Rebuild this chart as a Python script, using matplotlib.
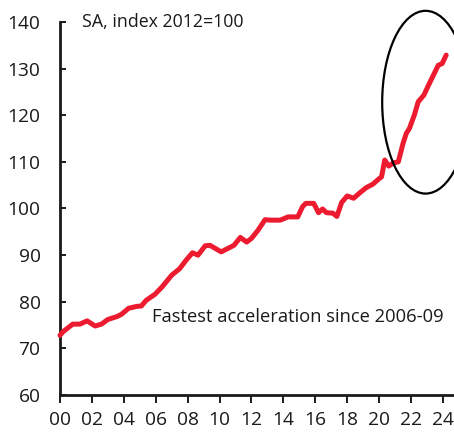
import matplotlib
matplotlib.use("Agg")
import matplotlib.pyplot as plt
from matplotlib.patches import Ellipse

# values (year fraction, index level)
years = [
    2000.0, 2000.2, 2000.8, 2001.25, 2001.7, 2002.2, 2002.6, 2003.0, 2003.55, 2003.85,
    2004.3, 2004.8, 2005.1, 2005.4, 2005.95, 2006.4, 2007.0, 2007.5, 2007.9, 2008.3,
    2008.65, 2009.1, 2009.4, 2009.8, 2010.1, 2010.5, 2010.9, 2011.3, 2011.7, 2012.0,
    2012.4, 2012.85, 2013.2, 2013.8, 2014.3, 2014.9, 2015.2, 2015.4, 2015.9, 2016.2,
    2016.45, 2016.7, 2017.1, 2017.35, 2017.65, 2018.0, 2018.4, 2018.8, 2019.2, 2019.6,
    2020.0, 2020.15, 2020.35, 2020.6, 2020.9, 2021.2, 2021.5, 2021.7, 2021.9, 2022.2,
    2022.45, 2022.8, 2023.1, 2023.4, 2023.7, 2023.95, 2024.2,
]
index_level = [
    72.8, 73.6, 75.2, 75.2, 75.9, 74.8, 75.2, 76.2, 76.8, 77.3,
    78.6, 79.0, 79.1, 80.3, 81.6, 83.2, 85.7, 87.1, 88.9, 90.5,
    90.0, 92.0, 92.1, 91.3, 90.7, 91.4, 92.1, 93.8, 92.8, 93.6,
    95.3, 97.6, 97.5, 97.5, 98.2, 98.2, 100.4, 101.1, 101.1, 99.1,
    99.9, 99.1, 99.0, 98.3, 101.3, 102.7, 102.2, 103.4, 104.5, 105.2,
    106.4, 106.8, 110.4, 109.1, 109.8, 110.0, 114.0, 116.1, 117.2, 120.0,
    122.9, 124.3, 126.5, 128.6, 130.7, 131.1, 132.9,
]
xtick_years = list(range(2000, 2025, 2))
xtick_labels = [f"{y % 100:02d}" for y in xtick_years]
yticks = list(range(60, 141, 10))

plt.rcParams["font.family"] = ["Open Sans", "DejaVu Sans"]

fig = plt.figure(figsize=(4.54, 4.32), dpi=100)
ax = fig.add_axes([60 / 454, 37 / 432, 394 / 454, 373 / 432])

ax.plot(years, index_level, color="#ED1B2F", linewidth=3.6, solid_joinstyle="round",
        solid_capstyle="round", clip_on=False, zorder=3)

# highlight ring around the recent surge
ring = Ellipse((2022.91, 122.8), 5.44, 39.2, fill=False, edgecolor="black",
               linewidth=1.6, clip_on=False, zorder=4)
ax.add_patch(ring)

ax.set_xlim(2000, 2024.69)
ax.set_ylim(60, 140)
ax.set_xticks(xtick_years)
ax.set_xticklabels(xtick_labels)
ax.set_yticks(yticks)

for side in ("top", "right"):
    ax.spines[side].set_visible(False)
for side in ("left", "bottom"):
    ax.spines[side].set_linewidth(2)
    ax.spines[side].set_color("#1a1a1a")

ax.tick_params(axis="y", direction="in", length=4, width=1.4, labelsize=13.8,
               pad=14, colors="#1a1a1a")
ax.tick_params(axis="x", direction="out", length=6, width=1.4, labelsize=13.8,
               pad=5.5, colors="#1a1a1a")

ax.text(2001.4, 140, "SA, index 2012=100", fontsize=12.8, color="#1a1a1a",
        va="center", ha="left")
ax.text(2005.75, 76.8, "Fastest acceleration since 2006-09", fontsize=13.2,
        color="#1a1a1a", va="center", ha="left")

fig.savefig("out.png", dpi=100)
